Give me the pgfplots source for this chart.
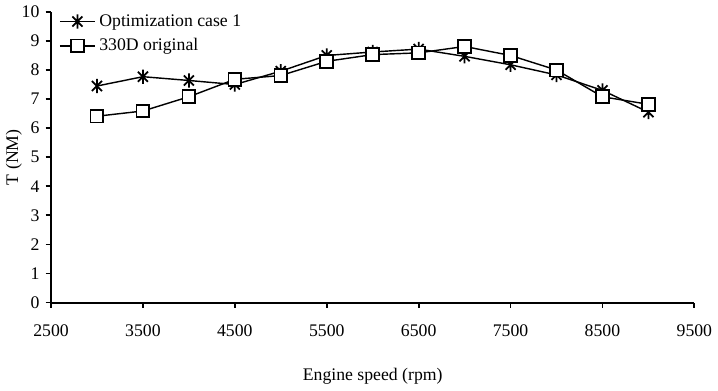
\documentclass[border=0pt]{standalone}
\usepackage{fontspec}
\setmainfont{Liberation Serif}
\usepackage{pgfplots}
\pgfplotsset{compat=1.18}

% six-spoke star: a vertical bar crossed by two diagonals
\pgfdeclareplotmark{xstar}{%
  \pgfpathmoveto{\pgfqpoint{0pt}{\pgfplotmarksize}}%
  \pgfpathlineto{\pgfqpoint{0pt}{-\pgfplotmarksize}}%
  \pgfpathmoveto{\pgfqpointpolar{45}{\pgfplotmarksize}}%
  \pgfpathlineto{\pgfqpointpolar{225}{\pgfplotmarksize}}%
  \pgfpathmoveto{\pgfqpointpolar{135}{\pgfplotmarksize}}%
  \pgfpathlineto{\pgfqpointpolar{315}{\pgfplotmarksize}}%
  \pgfusepathqstroke}

\begin{document}
\begin{tikzpicture}
\begin{axis}[
  width=363pt, height=164pt, scale only axis,
  xmin=2500, xmax=9500, ymin=0, ymax=10,
  xtick={2500,3500,...,9500}, ytick={0,1,...,10},
  axis x line*=bottom, axis y line*=left,
  axis line style={line width=1.1pt, -},
  tick align=outside, major tick length=3pt,
  tick style={line width=1pt, black},
  /pgf/number format/assume math mode=true,
  /pgf/number format/1000 sep={},
  ticklabel style={font=\fontsize{10}{12}\selectfont},
  xticklabel style={yshift=-6pt},
  label style={font=\fontsize{10}{12}\selectfont},
  xlabel={Engine speed (rpm)}, ylabel={T (NM)},
  xlabel style={yshift=-11pt},
  ylabel style={yshift=-7pt},
  legend style={draw=none, fill=none, at={(0.012,1.005)}, anchor=north west,
    font=\fontsize{10}{12}\selectfont, row sep=1.5pt, inner sep=0pt},
  legend cell align=left,
  legend image code/.code={%
    \draw[mark repeat=2,mark phase=2] plot coordinates {(0cm,0cm) (0.35cm,0cm) (0.7cm,0cm)};},
]
\addplot[black, line width=0.8pt, mark=xstar, mark size=4pt,
  mark options={line width=1pt}] coordinates {
  (3000,7.45) (3500,7.77) (4000,7.64) (4500,7.5) (5000,7.96)
  (5500,8.5) (6000,8.62) (6500,8.72) (7000,8.47) (7500,8.18)
  (8000,7.83) (8500,7.3) (9000,6.55)};
\addlegendentry{Optimization case 1}
\addplot[black, line width=0.8pt, mark=square*, mark size=3.6pt,
  mark options={fill=white, line width=1pt}] coordinates {
  (3000,6.41) (3500,6.59) (4000,7.08) (4500,7.68) (5000,7.81)
  (5500,8.3) (6000,8.53) (6500,8.59) (7000,8.81) (7500,8.5)
  (8000,8.0) (8500,7.08) (9000,6.82)};
\addlegendentry{330D original}
\end{axis}
\end{tikzpicture}
\end{document}
